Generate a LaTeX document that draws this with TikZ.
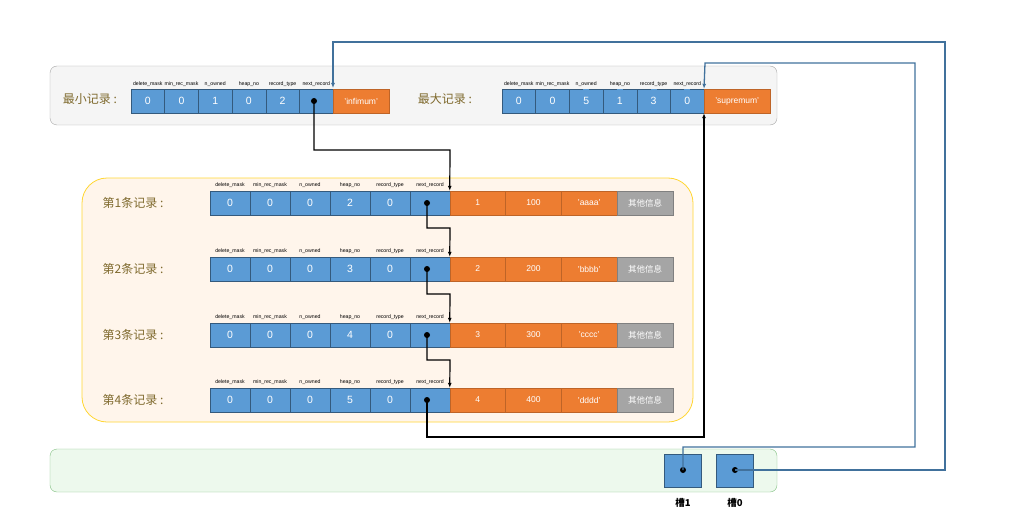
\documentclass[tikz,border=0pt]{standalone}
\usepackage{fontspec}
\setmainfont{Liberation Sans}
\newfontfamily\cjk{Noto Sans CJK SC}
\usetikzlibrary{arrows.meta}
\definecolor{cblue}{HTML}{5B9BD5}
\definecolor{corange}{HTML}{ED7D31}
\definecolor{cgray}{HTML}{A5A5A5}
\definecolor{clink}{HTML}{41719C}
\definecolor{clabel}{HTML}{7F6A2E}
\begin{document}
\begin{tikzpicture}[x=1pt,y=-1pt]
\tikzset{
  cell/.style={draw=clink!80!black,line width=0.4pt,fill=cblue,text=white,minimum height=24pt,inner sep=0pt,font=\fontsize{10.5}{10.5}\selectfont},
  ocell/.style={cell,fill=corange,draw=corange!80!black,font=\fontsize{8.5}{8.5}\selectfont},
  gcell/.style={cell,fill=cgray,draw=gray,font=\cjk\fontsize{8.5}{8.5}\selectfont},
  hdr/.style={font=\fontsize{5.2}{5.5}\selectfont,inner sep=0pt},
  rlabel/.style={font=\cjk\fontsize{12}{12}\selectfont,text=clabel},
  link/.style={line width=1.2pt,-{Latex[length=5pt,width=4pt]}},
  blink/.style={link,draw=clink,line width=1.3pt},
  dot/.style={circle,fill=black,inner sep=0pt,minimum size=6pt}
}
\useasboundingbox (0,0) rectangle (1011,532);
% group boxes
\draw[gray!70,fill=gray!8,rounded corners=7pt] (50,66) rectangle (777,125);
\draw[orange!40!yellow!80!white,line width=0.8pt,fill=orange!8,rounded corners=25pt] (82,178) rectangle (693,422);
\draw[green!50!black!50,fill=green!5!white!95!gray,rounded corners=7pt] (50,449) rectangle (777,492);
% infimum / supremum
\def\hnames{{"delete\_mask","min\_rec\_mask","n\_owned","heap\_no","record\_type","next\_record"}}
\node[rlabel] (lmin) at (90,99) {最小记录 :};
\node[rlabel] (lmax) at (445,99) {最大记录 :};
\foreach \v [count=\i from 0] in {0,0,1,0,2,{}} {
  \node[cell,minimum width=33.7pt] (mn\i) at ({147.8+33.7*\i},101) {\v};
  \node[hdr] at ({147.8+33.7*\i},84) {\pgfmathparse{\hnames[\i]}\pgfmathresult};
  \node[cell,minimum width=33.7pt] (mx\i) at ({518.8+33.7*\i},101) {\v};
  \node[hdr] at ({518.8+33.7*\i},84) {\pgfmathparse{\hnames[\i]}\pgfmathresult};
}
\node[cell,draw=none] at (mx2) {5};
\node[cell,draw=none] at (mx3) {1};
\node[cell,draw=none] at (mx4) {3};
\node[cell,draw=none] at (mx5) {0};
\node[ocell,minimum width=56pt,anchor=west] (inf) at (333,101) {'infimum'};
\node[ocell,minimum width=66pt,anchor=west] (sup) at (704,101) {'supremum'};
\node[dot] (dmin) at (314,101) {};
% user records
\foreach \r/\y/\a/\b/\c in {1/203/1/100/aaaa,2/269/2/200/bbbb,3/335/3/300/cccc,4/400/4/400/dddd} {
  \node[rlabel] (l\r) at (133,\y) {第\r 条记录 :};
  \foreach \v [count=\i from 0] in {0,0,0,\the\numexpr\r+1\relax,0,{}} {
    \node[cell,minimum width=40pt] (r\r c\i) at ({230+40*\i},\y) {\v};
    \node[hdr] at ({230+40*\i},\y-18) {\pgfmathparse{\hnames[\i]}\pgfmathresult};
  }
  \node[ocell,minimum width=55.7pt] (r\r a) at (477.8,\y) {\a};
  \node[ocell,minimum width=55.7pt] (r\r b) at (533.5,\y) {\b};
  \node[ocell,minimum width=55.7pt] (r\r c) at (589.2,\y) {'\c'};
  \node[gcell,minimum width=56pt] (r\r g) at (645,\y) {其他信息};
  \node[dot] (d\r) at (427,\y) {};
}
% page directory
\node[cell,minimum width=37pt,minimum height=33pt] (s1) at (682.5,470.5) {};
\node[cell,minimum width=37pt,minimum height=33pt] (s0) at (734.5,470.5) {};
\node[dot] (ds1) at (683,470) {};
\node[dot] (ds0) at (735,470) {};
\node[font=\cjk\bfseries\fontsize{9.5}{9.5}\selectfont] (t1) at (683,503) {槽1};
\node[font=\cjk\bfseries\fontsize{9.5}{9.5}\selectfont] (t0) at (735,503) {槽0};
% record links
\draw[link] (dmin.center) |- (450,150) -- (r1a.north west);
\draw[link] (d1.center) |- (450,228) -- (r2a.north west);
\draw[link] (d2.center) |- (450,294) -- (r3a.north west);
\draw[link] (d3.center) |- (450,360) -- (r4a.north west);
\draw[link] (d4.center) |- (704,437) -- (sup.south west);
% slot links
\draw[blink] (ds1.center) |- (915,447) |- (705,63) -- (sup.north west);
\draw[blink] (ds0.center) -| (945,42) -| (333,88);
\end{tikzpicture}
\end{document}
